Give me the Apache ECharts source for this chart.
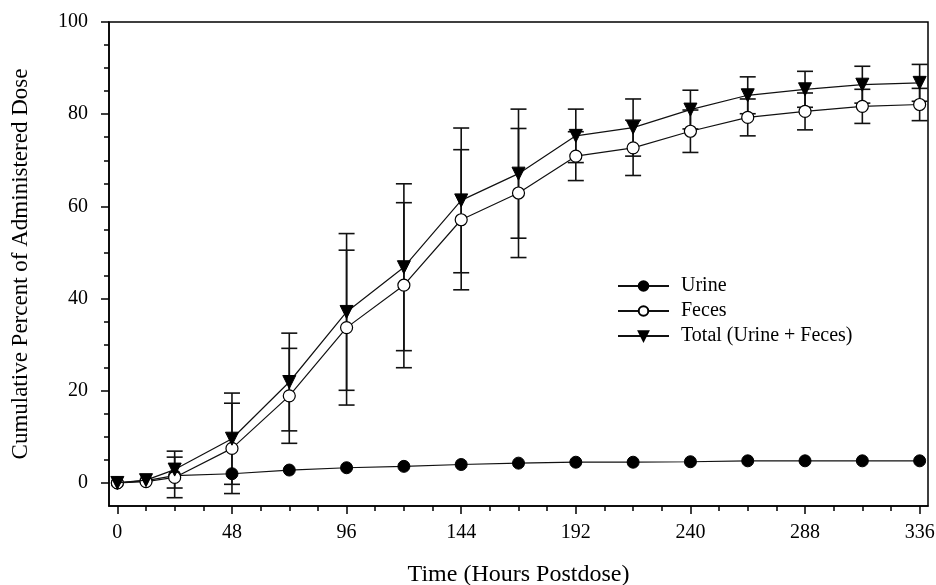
<!DOCTYPE html>
<html><head><meta charset="utf-8">
<script src="https://cdn.jsdelivr.net/npm/echarts@6/dist/echarts.min.js"></script>
<style>html,body{margin:0;padding:0;background:#fff}#c{width:936px;height:585px}</style>
</head><body><div id="c"></div>
<script>
const hours   = [0, 12, 24, 48, 72, 96, 120, 144, 168, 192, 216, 240, 264, 288, 312, 336];
const urine   = [0, 0.5, 1.6, 2.0, 2.8, 3.3, 3.6, 4.0, 4.3, 4.5, 4.5, 4.6, 4.8, 4.8, 4.8, 4.8];
const feces   = [0, 0.3, 1.2, 7.5, 18.9, 33.7, 42.9, 57.1, 62.9, 70.9, 72.7, 76.3, 79.3, 80.6, 81.7, 82.1];
const fecesSD = [null, null, 4.4, 9.8, 10.3, 16.8, 17.9, 15.2, 14.0, 5.3, 6.0, 4.6, 4.0, 4.0, 3.7, 3.5];
const total   = [0, 0.6, 2.9, 9.6, 21.9, 37.1, 46.8, 61.3, 67.1, 75.3, 77.1, 81.0, 84.1, 85.4, 86.4, 86.8];
const totalSD = [null, null, 4.0, 9.9, 10.6, 17.0, 18.1, 15.7, 14.0, 5.8, 6.2, 4.2, 4.0, 3.9, 4.0, 4.0];

const xMajorTicks = [0, 48, 96, 144, 192, 240, 288, 336];
const xMinorTicks = [12, 24, 36, 60, 72, 84, 108, 120, 132, 156, 168, 180, 204, 216, 228, 252, 264, 276, 300, 312, 324];
const yMajorTicks = [0, 20, 40, 60, 80, 100];
const yMinorTicks = [5, 10, 15, 25, 30, 35, 45, 50, 55, 65, 70, 75, 85, 90, 95];

const seriesNames = ['Urine', 'Feces', 'Total (Urine + Feces)'];
const xTitle = 'Time (Hours Postdose)';
const yTitle = 'Cumulative Percent of Administered Dose';

const FONT = '"Liberation Serif", "Times New Roman", serif';
const INK = '#000';

function pairs(vals) { return hours.map((h, i) => [h, vals[i]]); }
function errData(vals, sd) {
  const out = [];
  hours.forEach((h, i) => { if (sd[i] != null) out.push([h, vals[i] - sd[i], vals[i] + sd[i]]); });
  return out;
}
function errRender(params, api) {
  const x = api.value(0), lo = api.value(1), hi = api.value(2);
  const a = api.coord([x, lo]), b = api.coord([x, hi]);
  const w = 8;
  const st = { stroke: '#111', lineWidth: 1.6 };
  return { type: 'group', children: [
    { type: 'line', shape: { x1: a[0], y1: a[1], x2: b[0], y2: b[1] }, style: st },
    { type: 'line', shape: { x1: a[0] - w, y1: a[1], x2: a[0] + w, y2: a[1] }, style: st },
    { type: 'line', shape: { x1: b[0] - w, y1: b[1], x2: b[0] + w, y2: b[1] }, style: st }
  ]};
}

const axisLineStyle = { color: INK, width: 1.5 };
const chart = echarts.init(document.getElementById('c'), null, { renderer: 'canvas' });
chart.setOption({
  animation: false,
  backgroundColor: '#fff',
  grid: { left: 109, right: 8, top: 22, bottom: 79, containLabel: false, outerBoundsMode: 'none',
          show: true, borderColor: INK, borderWidth: 1.5, backgroundColor: 'transparent' },
  xAxis: [
    { type: 'value', min: -3.5, max: 339.5, position: 'bottom',
      axisLine: { show: true, onZero: false, lineStyle: axisLineStyle },
      axisTick: { show: true, customValues: xMajorTicks, length: 8, lineStyle: { color: INK, width: 1.5 } },
      axisLabel: { customValues: xMajorTicks, margin: 17, fontFamily: FONT, fontSize: 20, color: INK },
      splitLine: { show: false },
      name: xTitle, nameLocation: 'middle', nameGap: 57,
      nameTextStyle: { fontFamily: FONT, fontSize: 24, color: INK } },
    { type: 'value', min: -3.5, max: 339.5, position: 'bottom',
      axisLine: { show: false, onZero: false },
      axisTick: { show: true, customValues: xMinorTicks, length: 5, lineStyle: { color: INK, width: 1.5 } },
      axisLabel: { show: false }, splitLine: { show: false } }
  ],
  yAxis: [
    { type: 'value', min: -5, max: 100, position: 'left',
      axisLine: { show: true, onZero: false, lineStyle: axisLineStyle },
      axisTick: { show: true, customValues: yMajorTicks, length: 8, lineStyle: { color: INK, width: 1.5 } },
      axisLabel: { customValues: yMajorTicks, margin: 21, fontFamily: FONT, fontSize: 20, color: INK },
      splitLine: { show: false },
      name: yTitle, nameLocation: 'middle', nameGap: 77, nameRotate: 90,
      nameTextStyle: { fontFamily: FONT, fontSize: 23, color: INK } },
    { type: 'value', min: -5, max: 100, position: 'left',
      axisLine: { show: false, onZero: false },
      axisTick: { show: true, customValues: yMinorTicks, length: 5, lineStyle: { color: INK, width: 1.5 } },
      axisLabel: { show: false }, splitLine: { show: false } }
  ],
  legend: {
    data: seriesNames, orient: 'vertical', left: 612, top: 271,
    itemWidth: 51, itemHeight: 12, itemGap: 5,
    textStyle: { fontFamily: FONT, fontSize: 20, color: INK, padding: [0, 0, 0, 7] }
  },
  series: [
    { type: 'custom', name: 'feces-err', renderItem: errRender, data: errData(feces, fecesSD), encode: { x: 0, y: [1, 2] }, z: 2, silent: true },
    { type: 'custom', name: 'total-err', renderItem: errRender, data: errData(total, totalSD), encode: { x: 0, y: [1, 2] }, z: 2, silent: true },
    { type: 'line', name: seriesNames[0], data: pairs(urine), symbol: 'circle', symbolSize: 12,
      lineStyle: { color: '#111', width: 1.2 }, itemStyle: { color: INK, borderColor: INK, borderWidth: 1 }, z: 3 },
    { type: 'line', name: seriesNames[1], data: pairs(feces), symbol: 'circle', symbolSize: 12,
      lineStyle: { color: '#111', width: 1.2 }, itemStyle: { color: '#fff', borderColor: INK, borderWidth: 1.2 }, z: 4 },
    { type: 'line', name: seriesNames[2], data: pairs(total), symbol: 'triangle', symbolRotate: 180, symbolSize: 13,
      lineStyle: { color: '#111', width: 1.2 }, itemStyle: { color: INK, borderColor: INK, borderWidth: 1 }, z: 5 }
  ]
});
</script></body></html>
